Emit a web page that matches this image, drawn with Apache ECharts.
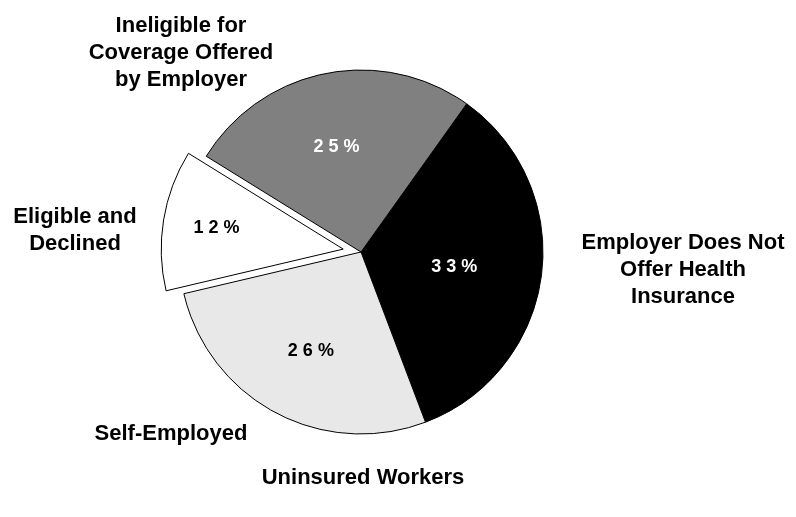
<!DOCTYPE html>
<html>
<head>
<meta charset="utf-8">
<style>
  html, body { margin: 0; padding: 0; background: #fff; }
  #chart { width: 796px; height: 517px; }
</style>
<script src="https://cdn.jsdelivr.net/npm/echarts@6/dist/echarts.min.js"></script>
</head>
<body>
<div id="chart"></div>
<script>
// slice order goes clockwise from the black slice
var categories = [
    'Employer Does Not\nOffer Health\nInsurance',
    'Self-Employed',
    'Eligible and\nDeclined',
    'Ineligible for\nCoverage Offered\nby Employer'
];
var shares = [33, 26, 12, 25];
var sliceColors = ['#000000', '#e8e8e8', '#ffffff', '#808080'];
var pctColors = ['#ffffff', '#000000', '#000000', '#ffffff'];
var exploded = [false, false, true, false];
var chartTitle = 'Uninsured Workers';

// label placement (styles, not data)
var pctOffsets = [[0, 3], [-6, 16], [-34, -6], [-6, -13]];
var namePos = [[683, 270], [171, 434], [75, 230], [181, 53]];

var font = '"Liberation Sans", Arial, sans-serif';
var chart = echarts.init(document.getElementById('chart'));

var pieData = shares.map(function (v, i) {
    var lbl = { color: pctColors[i], offset: pctOffsets[i] };
    return {
        value: v,
        name: categories[i],
        selected: exploded[i],
        itemStyle: { color: sliceColors[i] },
        label: lbl,
        select: { itemStyle: { color: sliceColors[i] }, label: lbl }
    };
});

var nameData = shares.map(function (v, i) {
    return { value: v, name: categories[i] };
});

chart.setOption({
    animation: false,
    title: {
        text: chartTitle,
        left: 358,
        textAlign: 'center',
        top: 462,
        textStyle: { fontFamily: font, fontSize: 22, fontWeight: 'bold', color: '#000' }
    },
    series: [
        {
            // invisible copy used only for the category names
            type: 'pie',
            silent: true,
            center: [361, 252],
            radius: 182,
            startAngle: 54.5,
            data: nameData,
            itemStyle: { color: 'rgba(0,0,0,0)', borderWidth: 0 },
            label: {
                show: true,
                position: 'outside',
                overflow: 'none',
                width: 260,
                fontFamily: font,
                fontSize: 22,
                fontWeight: 'bold',
                lineHeight: 27,
                color: '#000',
                align: 'center'
            },
            labelLine: { show: false },
            labelLayout: function (p) {
                var pos = namePos[p.dataIndex];
                return { x: pos[0], y: pos[1], align: 'center', verticalAlign: 'middle' };
            }
        },
        {
            type: 'pie',
            center: [361, 252],
            radius: 182,
            startAngle: 54.5,
            selectedMode: 'multiple',
            selectedOffset: 18,
            data: pieData,
            itemStyle: { borderColor: '#000', borderWidth: 1 },
            select: { itemStyle: { borderColor: '#000', borderWidth: 1 } },
            label: {
                show: true,
                position: 'inside',
                fontFamily: font,
                fontSize: 18,
                fontWeight: 'bold',
                formatter: function (p) {
                    return String(p.value).split('').join(' ') + ' %';
                }
            },
            labelLine: { show: false },
            emphasis: { disabled: true }
        }
    ]
});
</script>
</body>
</html>
